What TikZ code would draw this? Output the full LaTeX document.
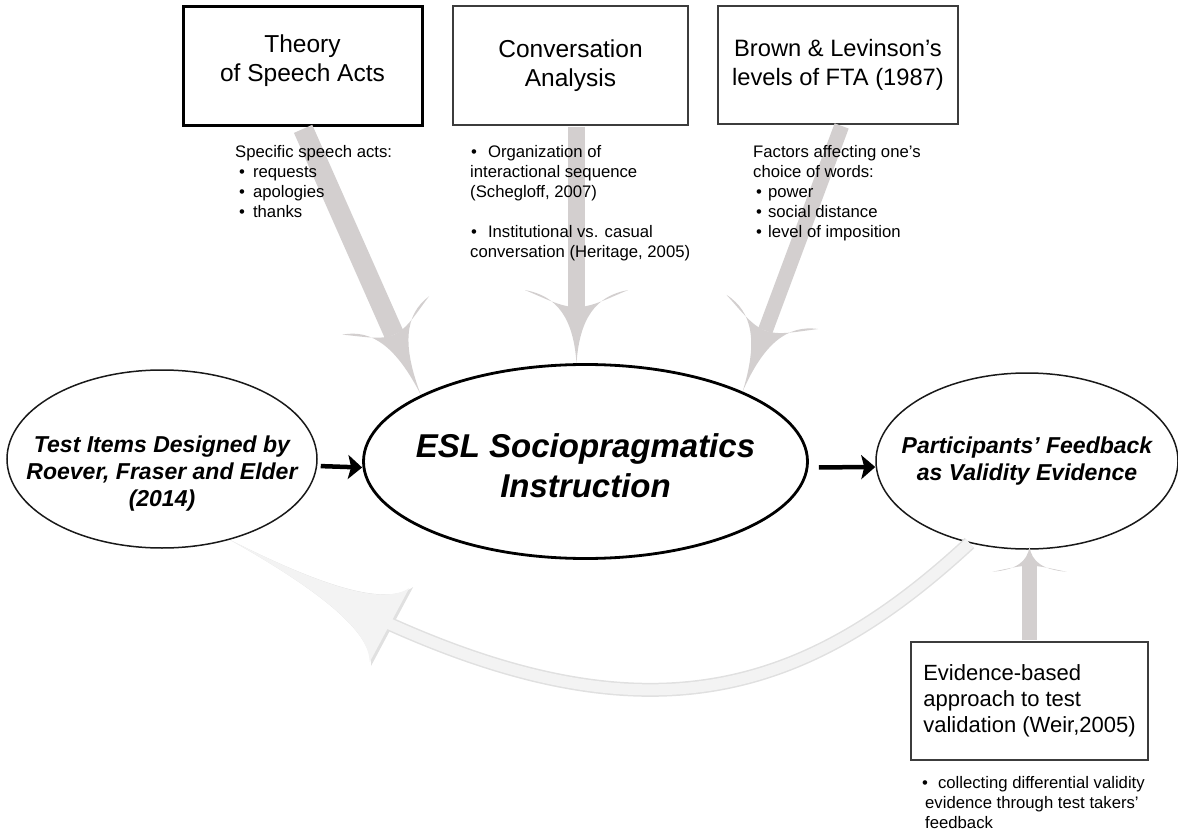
\documentclass[tikz,border=0pt]{standalone}
\usepackage{fontspec}
\setmainfont{Liberation Sans}
\usetikzlibrary{positioning,calc,arrows.meta,bending,shapes.geometric}

\definecolor{bandgray}{RGB}{211,207,207}
\definecolor{loopgray}{RGB}{243,243,243}
\definecolor{loopedge}{RGB}{224,224,224}
\definecolor{framegray}{RGB}{60,60,60}

% broad arrow head with swept-back barbs
\pgfdeclarearrow{
  name = Swept,
  parameters = {\the\pgfarrowlength,\the\pgfarrowwidth,\the\pgfarrowinset},
  setup code = {
    \pgfarrowssettipend{\pgfarrowlength}
    \pgfarrowssetlineend{\pgfarrowinset}
    \pgfarrowssetbackend{0pt}
    \pgfarrowshullpoint{\pgfarrowlength}{0pt}
    \pgfarrowsupperhullpoint{0pt}{.5\pgfarrowwidth}
    \pgfarrowssavethe\pgfarrowlength
    \pgfarrowssavethe\pgfarrowwidth
    \pgfarrowssavethe\pgfarrowinset
  },
  drawing code = {
    \pgfpathmoveto{\pgfpoint{\pgfarrowlength}{0pt}}
    \pgfpathcurveto{\pgfpoint{.4\pgfarrowlength}{.03\pgfarrowwidth}}
                   {\pgfpoint{.08\pgfarrowlength}{.18\pgfarrowwidth}}
                   {\pgfpoint{0pt}{.5\pgfarrowwidth}}
    \pgfpathcurveto{\pgfpoint{.5\pgfarrowinset}{.3\pgfarrowwidth}}
                   {\pgfpoint{\pgfarrowinset}{.15\pgfarrowwidth}}
                   {\pgfpoint{\pgfarrowinset}{0pt}}
    \pgfpathcurveto{\pgfpoint{\pgfarrowinset}{-.15\pgfarrowwidth}}
                   {\pgfpoint{.5\pgfarrowinset}{-.3\pgfarrowwidth}}
                   {\pgfpoint{0pt}{-.5\pgfarrowwidth}}
    \pgfpathcurveto{\pgfpoint{.08\pgfarrowlength}{-.18\pgfarrowwidth}}
                   {\pgfpoint{.4\pgfarrowlength}{-.03\pgfarrowwidth}}
                   {\pgfpoint{\pgfarrowlength}{0pt}}
    \pgfpathclose
    \pgfusepathqfill
  },
  defaults = {length=20pt, width=20pt, inset=5pt}
}

\tikzset{
  >={Stealth[length=14pt,width=24pt,inset=3pt]},
  my box/.style={
    draw=framegray,
    line width=2pt,
    rectangle,
    inner sep=0pt,
    align=center,
    font=\fontsize{24.5}{29}\selectfont
  },
  my note/.style={
    anchor=north west,
    inner sep=0pt,
    align=left,
    font=\fontsize{16.7}{20}\selectfont
  },
  my oval/.style={
    draw=black!90,
    line width=1.5pt,
    ellipse,
    inner xsep=-60pt,
    inner ysep=0pt,
    align=center,
    font=\bfseries\itshape\fontsize{23}{27}\selectfont
  },
  my feed/.style={->,line width=4.5pt},
  my band/.style={draw=bandgray,line width=#1},
  my loop band/.style={
    draw=loopgray,
    line width=11pt,
    -{Swept[length=181pt,width=84pt,inset=0pt]},
    preaction={draw=loopedge,line width=14pt,-{Swept[length=184pt,width=89pt,inset=0pt]}}
  }
}

\begin{document}
\begin{tikzpicture}[x=1pt,y=-1pt]
\useasboundingbox (0,0) rectangle (1178,834);
% Theory boxes
\node[my box,draw=black,line width=3pt,minimum width=239pt,minimum height=119pt] (theory) at (302.5,66.5)
  {Theory\\of Speech Acts\rule[-16pt]{0pt}{16pt}};
\node[my box,minimum width=235pt,minimum height=119pt] (conv) at (570.5,65.5) {Conversation\\Analysis};
\node[my box,font=\fontsize{23.7}{29}\selectfont,minimum width=240pt,minimum height=118pt] (brown) at (838,65)
  {Brown \& Levinson’s\\levels of FTA (1987)};
% Ovals
\node[my oval,minimum width=310pt,minimum height=178pt] (items) at (162,459)
  {\rule{0pt}{46pt}Test Items Designed by\\Roever, Fraser and Elder\\(2014)};
\node[my oval,draw=black,line width=2.8pt,font=\bfseries\itshape\fontsize{33}{40}\selectfont,
  minimum width=444pt,minimum height=194pt] (esl) at (585.5,461.5)
  {\rule{0pt}{33pt}ESL Sociopragmatics\\Instruction};
\node[my oval,minimum width=302pt,minimum height=176pt] (feedback) at (1027,461)
  {Participants’ Feedback\\as Validity Evidence};
% Validation box
\node[my box,align=left,font=\fontsize{22}{26}\selectfont,minimum width=237pt,minimum height=118pt] (weir) at (1029.5,701)
  {Evidence-based\\approach to test\\validation (Weir,2005)};
% Black links
\draw[my feed,shorten <=3pt] ([yshift=-7pt]items.east) -- ([yshift=-6pt]esl.west);
\draw[my feed,shorten <=10pt] ([yshift=-6pt]esl.east) -- ([yshift=-6pt]feedback.west);
% Grey arrows into the instruction
\draw[my band=20pt,shorten <=1.5pt,-{Swept[length=87pt,width=95pt,inset=21pt]}] (theory.south) -- (esl.158);
\draw[my band=17pt,shorten <=1pt,-{Swept[length=73pt,width=103pt,inset=17pt]}]
  ([xshift=6pt]conv.south) -- ([xshift=6pt]conv.south |- esl.north);
\draw[my band=15pt,shorten <=1pt,-{Swept[length=85pt,width=98pt,inset=20pt]}] ([xshift=4pt]brown.south) -- (esl.24);
% Validation arrow and loop back
\draw[my band=15pt,shorten <=1pt,shorten >=-3pt,-{Swept[length=25pt,width=74pt,inset=6pt]}]
  (weir.north) -- (weir.north |- feedback.south);
\draw[my loop band] (feedback.235) .. controls (776,722) and (594,756) .. (items.-50);
% Notes
\node[my note] (theory-acts) at (235,145)
  {Specific speech acts:\\
   \hspace*{4pt}•\hspace{8pt}requests\\
   \hspace*{4pt}•\hspace{8pt}apologies\\
   \hspace*{4pt}•\hspace{8pt}thanks};
\node[my note] (conv-refs) at (470,145)
  {\hspace*{1pt}•\hspace{11pt}Organization of\\
   interactional sequence\\
   (Schegloff, 2007)\\[20pt]
   \hspace*{1pt}•\hspace{11pt}Institutional vs. casual\\
   conversation (Heritage, 2005)};
\node[my note] (brown-factors) at (753,145)
  {Factors affecting one’s\\
   choice of words:\\
   \hspace*{3pt}•\hspace{6pt}power\\
   \hspace*{3pt}•\hspace{6pt}social distance\\
   \hspace*{3pt}•\hspace{6pt}level of imposition};
\node[my note] (weir-note) at (922,776)
  {•\hspace{10pt}collecting differential validity\\
   \hspace*{3pt}evidence through test takers’\\
   \hspace*{3pt}feedback};
\end{tikzpicture}
\end{document}
